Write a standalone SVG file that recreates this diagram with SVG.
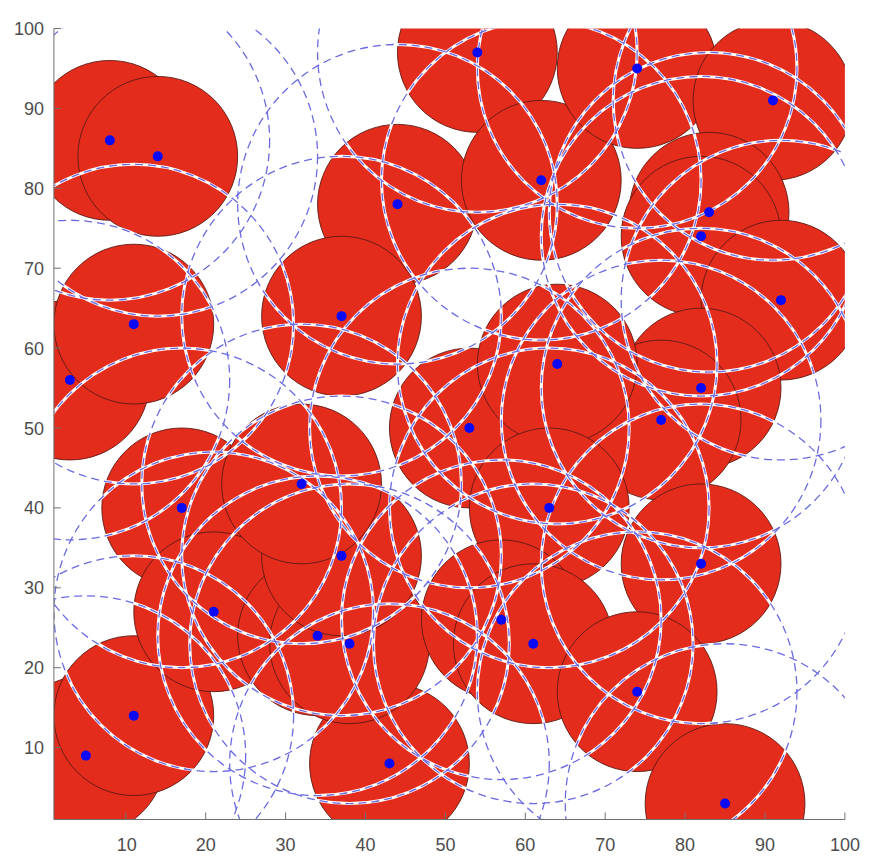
<svg xmlns="http://www.w3.org/2000/svg" width="890" height="862" viewBox="0 0 890 862">
<style>
.disk{fill:#e42c1d;stroke:#5e1a12;stroke-width:0.9}
.halo{fill:none;stroke:#ffffff;stroke-width:3}
.ring{fill:none;stroke:#6a6ae2;stroke-width:1.3;stroke-dasharray:8 5}
.dot{fill:#0a0af5}
.ax{stroke:#707070;stroke-width:1;fill:none}
.tl{font-family:"Liberation Sans",Arial,sans-serif;font-size:18px;fill:#4d4d4d}
</style>
<defs>
<clipPath id="plot"><rect x="53.9" y="28.5" width="791" height="791"/></clipPath>
</defs>
<rect width="890" height="862" fill="#ffffff"/>
<g clip-path="url(#plot)">
<g id="disks" class="disk">
<circle cx="109.82" cy="140.36" r="79.9"/>
<circle cx="157.76" cy="156.34" r="79.9"/>
<circle cx="69.87" cy="380.06" r="79.9"/>
<circle cx="133.79" cy="324.13" r="79.9"/>
<circle cx="85.85" cy="755.59" r="79.9"/>
<circle cx="133.79" cy="715.64" r="79.9"/>
<circle cx="181.73" cy="507.9" r="79.9"/>
<circle cx="213.69" cy="611.77" r="79.9"/>
<circle cx="389.47" cy="763.58" r="79.9"/>
<circle cx="317.56" cy="635.74" r="79.9"/>
<circle cx="349.52" cy="643.73" r="79.9"/>
<circle cx="341.53" cy="555.84" r="79.9"/>
<circle cx="301.58" cy="483.93" r="79.9"/>
<circle cx="397.46" cy="204.28" r="79.9"/>
<circle cx="341.53" cy="316.14" r="79.9"/>
<circle cx="477.36" cy="52.47" r="79.9"/>
<circle cx="541.28" cy="180.31" r="79.9"/>
<circle cx="637.16" cy="68.45" r="79.9"/>
<circle cx="772.99" cy="100.41" r="79.9"/>
<circle cx="709.07" cy="212.27" r="79.9"/>
<circle cx="701.08" cy="236.24" r="79.9"/>
<circle cx="780.98" cy="300.16" r="79.9"/>
<circle cx="701.08" cy="388.05" r="79.9"/>
<circle cx="661.13" cy="420.01" r="79.9"/>
<circle cx="469.37" cy="428.0" r="79.9"/>
<circle cx="557.26" cy="364.08" r="79.9"/>
<circle cx="549.27" cy="507.9" r="79.9"/>
<circle cx="701.08" cy="563.83" r="79.9"/>
<circle cx="501.33" cy="619.76" r="79.9"/>
<circle cx="533.29" cy="643.73" r="79.9"/>
<circle cx="637.16" cy="691.67" r="79.9"/>
<circle cx="725.05" cy="803.53" r="79.9"/>
</g>
<g id="range-halo" class="halo">
<circle cx="109.82" cy="140.36" r="159.8"/>
<circle cx="157.76" cy="156.34" r="159.8"/>
<circle cx="69.87" cy="380.06" r="159.8"/>
<circle cx="133.79" cy="324.13" r="159.8"/>
<circle cx="85.85" cy="755.59" r="159.8"/>
<circle cx="133.79" cy="715.64" r="159.8"/>
<circle cx="181.73" cy="507.9" r="159.8"/>
<circle cx="213.69" cy="611.77" r="159.8"/>
<circle cx="389.47" cy="763.58" r="159.8"/>
<circle cx="317.56" cy="635.74" r="159.8"/>
<circle cx="349.52" cy="643.73" r="159.8"/>
<circle cx="341.53" cy="555.84" r="159.8"/>
<circle cx="301.58" cy="483.93" r="159.8"/>
<circle cx="397.46" cy="204.28" r="159.8"/>
<circle cx="341.53" cy="316.14" r="159.8"/>
<circle cx="477.36" cy="52.47" r="159.8"/>
<circle cx="541.28" cy="180.31" r="159.8"/>
<circle cx="637.16" cy="68.45" r="159.8"/>
<circle cx="772.99" cy="100.41" r="159.8"/>
<circle cx="709.07" cy="212.27" r="159.8"/>
<circle cx="701.08" cy="236.24" r="159.8"/>
<circle cx="780.98" cy="300.16" r="159.8"/>
<circle cx="701.08" cy="388.05" r="159.8"/>
<circle cx="661.13" cy="420.01" r="159.8"/>
<circle cx="469.37" cy="428.0" r="159.8"/>
<circle cx="557.26" cy="364.08" r="159.8"/>
<circle cx="549.27" cy="507.9" r="159.8"/>
<circle cx="701.08" cy="563.83" r="159.8"/>
<circle cx="501.33" cy="619.76" r="159.8"/>
<circle cx="533.29" cy="643.73" r="159.8"/>
<circle cx="637.16" cy="691.67" r="159.8"/>
<circle cx="725.05" cy="803.53" r="159.8"/>
</g>
<g id="ranges" class="ring">
<circle cx="109.82" cy="140.36" r="159.8"/>
<circle cx="157.76" cy="156.34" r="159.8"/>
<circle cx="69.87" cy="380.06" r="159.8"/>
<circle cx="133.79" cy="324.13" r="159.8"/>
<circle cx="85.85" cy="755.59" r="159.8"/>
<circle cx="133.79" cy="715.64" r="159.8"/>
<circle cx="181.73" cy="507.9" r="159.8"/>
<circle cx="213.69" cy="611.77" r="159.8"/>
<circle cx="389.47" cy="763.58" r="159.8"/>
<circle cx="317.56" cy="635.74" r="159.8"/>
<circle cx="349.52" cy="643.73" r="159.8"/>
<circle cx="341.53" cy="555.84" r="159.8"/>
<circle cx="301.58" cy="483.93" r="159.8"/>
<circle cx="397.46" cy="204.28" r="159.8"/>
<circle cx="341.53" cy="316.14" r="159.8"/>
<circle cx="477.36" cy="52.47" r="159.8"/>
<circle cx="541.28" cy="180.31" r="159.8"/>
<circle cx="637.16" cy="68.45" r="159.8"/>
<circle cx="772.99" cy="100.41" r="159.8"/>
<circle cx="709.07" cy="212.27" r="159.8"/>
<circle cx="701.08" cy="236.24" r="159.8"/>
<circle cx="780.98" cy="300.16" r="159.8"/>
<circle cx="701.08" cy="388.05" r="159.8"/>
<circle cx="661.13" cy="420.01" r="159.8"/>
<circle cx="469.37" cy="428.0" r="159.8"/>
<circle cx="557.26" cy="364.08" r="159.8"/>
<circle cx="549.27" cy="507.9" r="159.8"/>
<circle cx="701.08" cy="563.83" r="159.8"/>
<circle cx="501.33" cy="619.76" r="159.8"/>
<circle cx="533.29" cy="643.73" r="159.8"/>
<circle cx="637.16" cy="691.67" r="159.8"/>
<circle cx="725.05" cy="803.53" r="159.8"/>
</g>
<g id="nodes" class="dot">
<circle cx="109.82" cy="140.36" r="5"/>
<circle cx="157.76" cy="156.34" r="5"/>
<circle cx="69.87" cy="380.06" r="5"/>
<circle cx="133.79" cy="324.13" r="5"/>
<circle cx="85.85" cy="755.59" r="5"/>
<circle cx="133.79" cy="715.64" r="5"/>
<circle cx="181.73" cy="507.9" r="5"/>
<circle cx="213.69" cy="611.77" r="5"/>
<circle cx="389.47" cy="763.58" r="5"/>
<circle cx="317.56" cy="635.74" r="5"/>
<circle cx="349.52" cy="643.73" r="5"/>
<circle cx="341.53" cy="555.84" r="5"/>
<circle cx="301.58" cy="483.93" r="5"/>
<circle cx="397.46" cy="204.28" r="5"/>
<circle cx="341.53" cy="316.14" r="5"/>
<circle cx="477.36" cy="52.47" r="5"/>
<circle cx="541.28" cy="180.31" r="5"/>
<circle cx="637.16" cy="68.45" r="5"/>
<circle cx="772.99" cy="100.41" r="5"/>
<circle cx="709.07" cy="212.27" r="5"/>
<circle cx="701.08" cy="236.24" r="5"/>
<circle cx="780.98" cy="300.16" r="5"/>
<circle cx="701.08" cy="388.05" r="5"/>
<circle cx="661.13" cy="420.01" r="5"/>
<circle cx="469.37" cy="428.0" r="5"/>
<circle cx="557.26" cy="364.08" r="5"/>
<circle cx="549.27" cy="507.9" r="5"/>
<circle cx="701.08" cy="563.83" r="5"/>
<circle cx="501.33" cy="619.76" r="5"/>
<circle cx="533.29" cy="643.73" r="5"/>
<circle cx="637.16" cy="691.67" r="5"/>
<circle cx="725.05" cy="803.53" r="5"/>
</g>
</g>
<g id="axes">
<path class="ax" d="M53.9,28.5 V819.5 H844.9"/>
<path class="ax" d="M125.8,819.5v-7M205.7,819.5v-7M285.6,819.5v-7M365.5,819.5v-7M445.4,819.5v-7M525.3,819.5v-7M605.2,819.5v-7M685.1,819.5v-7M765,819.5v-7M844.9,819.5v-7"/>
<path class="ax" d="M53.9,747.6h7M53.9,667.7h7M53.9,587.8h7M53.9,507.9h7M53.9,428h7M53.9,348.1h7M53.9,268.2h7M53.9,188.3h7M53.9,108.4h7M53.9,28.5h7"/>
<g class="tl" text-anchor="middle">
<text x="126.8" y="851">10</text>
<text x="205.7" y="851">20</text>
<text x="285.6" y="851">30</text>
<text x="365.5" y="851">40</text>
<text x="445.4" y="851">50</text>
<text x="525.3" y="851">60</text>
<text x="605.2" y="851">70</text>
<text x="685.1" y="851">80</text>
<text x="765" y="851">90</text>
<text x="844.9" y="851">100</text>
</g>
<g class="tl" text-anchor="end">
<text x="44" y="754">10</text>
<text x="44" y="674">20</text>
<text x="44" y="594">30</text>
<text x="44" y="514">40</text>
<text x="44" y="434.5">50</text>
<text x="44" y="354.5">60</text>
<text x="44" y="274.5">70</text>
<text x="44" y="194.5">80</text>
<text x="44" y="114.5">90</text>
<text x="44" y="35">100</text>
</g>
</g>
</svg>
